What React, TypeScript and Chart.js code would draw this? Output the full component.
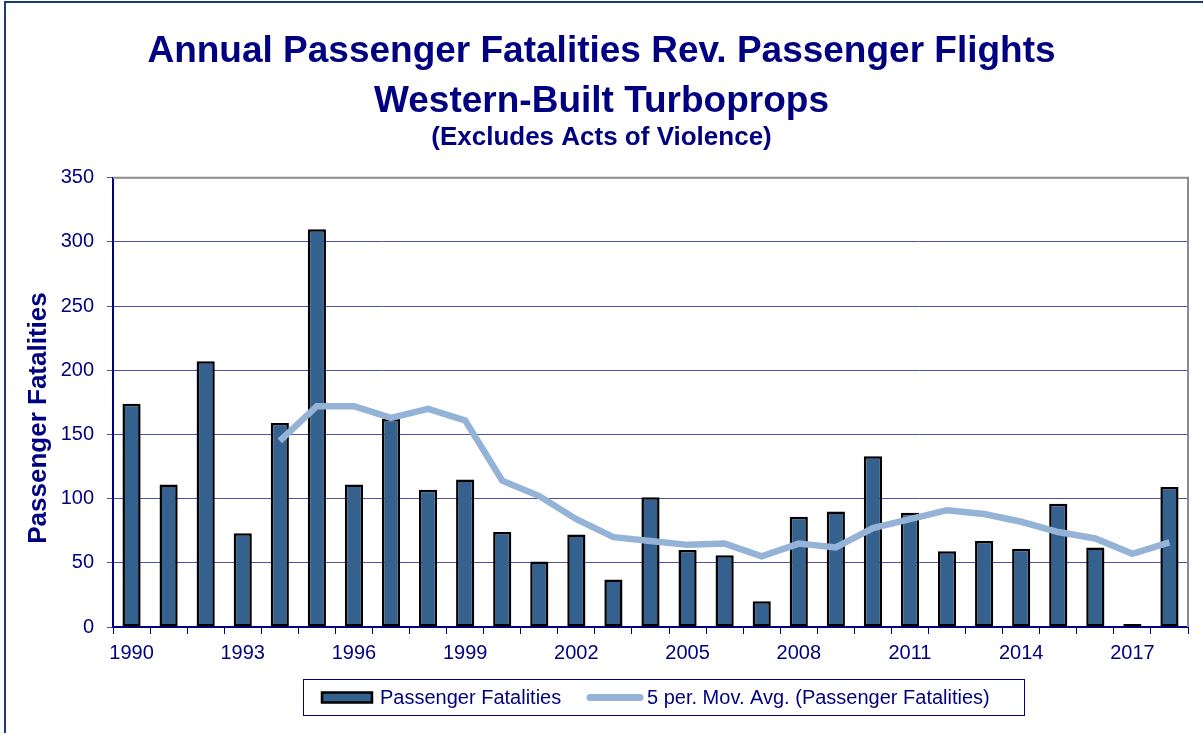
import React, { useEffect, useRef } from 'react';
import { Chart, registerables } from 'chart.js';

Chart.register(...registerables);

const years = ['1990','1991','1992','1993','1994','1995','1996','1997','1998','1999','2000','2001','2002','2003','2004','2005','2006','2007','2008','2009','2010','2011','2012','2013','2014','2015','2016','2017','2018'];
const fatalities = [174,111,207,73,159,310,111,162,107,115,74,51,72,37,101,60,56,20,86,90,133,89,59,67,61,96,62,1,109];
const movingAvg = [null,null,null,null,145,172,172,163,170,161,114,102,84,70,67,64,65,55,65,62,77,84,91,88,82,74,69,57,66];
const titleLines = ['Annual Passenger Fatalities Rev. Passenger Flights', 'Western-Built Turboprops'];
const subtitleText = '(Excludes Acts of Violence)';
const yAxisTitle = 'Passenger Fatalities';
const barLabel = 'Passenger Fatalities';
const lineLabel = '5 per. Mov. Avg. (Passenger Fatalities)';
const yMin = 0;
const yMax = 350;
const yStep = 50;
const labelEvery = 3;

const NAVY = '#000080';
const BAR_FILL = '#35618f';
const LINE_COLOR = '#95b3d7';
const FONT = '"Liberation Sans", Arial, sans-serif';

const decorations = {
  id: 'decorations',
  afterDraw(chart: any) {
    const ctx = chart.ctx;
    const area = chart.chartArea;
    ctx.save();
    // outer frame (left + top)
    ctx.strokeStyle = '#1a3a78';
    ctx.lineWidth = 2;
    ctx.beginPath();
    ctx.moveTo(5, 733);
    ctx.lineTo(5, 2);
    ctx.lineTo(1203, 2);
    ctx.stroke();

    // plot border top/right gray
    ctx.strokeStyle = '#8c8c8c';
    ctx.lineWidth = 2;
    ctx.beginPath();
    ctx.moveTo(area.left, area.top);
    ctx.lineTo(area.right, area.top);
    ctx.lineTo(area.right, area.bottom);
    ctx.stroke();

    // y axis title
    ctx.fillStyle = NAVY;
    ctx.font = 'bold 26px ' + FONT;
    ctx.textAlign = 'center';
    ctx.textBaseline = 'middle';
    ctx.translate(39, 418);
    ctx.rotate(-Math.PI / 2);
    ctx.fillText(yAxisTitle, 0, 0);
    ctx.setTransform(1, 0, 0, 1, 0, 0);

    // legend
    const bx = 303.5, by = 679.5, bw = 721, bh = 36;
    ctx.strokeStyle = NAVY;
    ctx.lineWidth = 1;
    ctx.strokeRect(bx, by, bw, bh);
    const cy = by + bh / 2;
    ctx.fillStyle = BAR_FILL;
    ctx.fillRect(322, cy - 5, 50, 10);
    ctx.strokeStyle = '#000000';
    ctx.lineWidth = 2.5;
    ctx.strokeRect(322, cy - 5, 50, 10);
    ctx.font = '20px ' + FONT;
    ctx.fillStyle = NAVY;
    ctx.textAlign = 'left';
    ctx.textBaseline = 'middle';
    ctx.fillText(barLabel, 380, cy + 1);
    ctx.strokeStyle = LINE_COLOR;
    ctx.lineWidth = 7;
    ctx.lineCap = 'round';
    ctx.beginPath();
    ctx.moveTo(590, cy);
    ctx.lineTo(640, cy);
    ctx.stroke();
    ctx.fillStyle = NAVY;
    ctx.fillText(lineLabel, 647, cy + 1);
    ctx.restore();
  },
};

export default function App() {
  const ref = useRef<HTMLCanvasElement>(null);
  useEffect(() => {
    document.body.style.margin = '0';
    const canvas = ref.current;
    if (!canvas) return;
    const chart = new Chart(canvas, {
      type: 'bar',
      data: {
        labels: years,
        datasets: [
          {
            type: 'line',
            label: lineLabel,
            data: movingAvg,
            borderColor: LINE_COLOR,
            backgroundColor: LINE_COLOR,
            borderWidth: 6.5,
            pointRadius: 0,
            tension: 0,
            spanGaps: false,
            order: 0,
          } as any,
          {
            type: 'bar',
            label: barLabel,
            data: fatalities,
            backgroundColor: BAR_FILL,
            borderColor: '#000000',
            borderWidth: 2.5,
            borderSkipped: false,
            barPercentage: 0.49,
            categoryPercentage: 1,
            minBarLength: 3,
            order: 1,
          } as any,
        ],
      },
      options: {
        responsive: false,
        animation: false,
        devicePixelRatio: 1,
        layout: { padding: { left: 15, right: 15, top: 0, bottom: 61 } },
        plugins: {
          legend: { display: false },
          tooltip: { enabled: false },
          title: {
            display: true,
            text: titleLines,
            color: NAVY,
            font: { family: FONT, size: 37, weight: 'bold', lineHeight: 50 / 37 },
            padding: { top: 27, bottom: 0 },
          },
          subtitle: {
            display: true,
            text: subtitleText,
            color: NAVY,
            font: { family: FONT, size: 26, weight: 'bold', lineHeight: 0.8 },
            padding: { top: 0, bottom: 30 },
          },
        },
        scales: {
          x: {
            offset: true,
            grid: {
              display: true,
              offset: true,
              drawOnChartArea: false,
              drawTicks: true,
              tickLength: 7,
              color: NAVY,
              lineWidth: 1,
            },
            border: { display: true, color: NAVY, width: 2 },
            ticks: {
              autoSkip: false,
              maxRotation: 0,
              minRotation: 0,
              padding: 7,
              color: NAVY,
              font: { family: FONT, size: 20 },
              callback: (_v: any, i: number) => (i % labelEvery === 0 ? years[i] : ''),
            },
          },
          y: {
            min: yMin,
            max: yMax,
            afterFit: (scale: any) => { scale.width = 98; },
            grid: {
              color: '#5050a8',
              lineWidth: 1,
              tickLength: 6,
              drawTicks: true,
            },
            border: { display: true, color: NAVY, width: 2 },
            ticks: {
              stepSize: yStep,
              padding: 13,
              color: NAVY,
              font: { family: FONT, size: 20 },
            },
          },
        },
      },
      plugins: [decorations],
    });
    return () => chart.destroy();
  }, []);
  return (
    <div style={{ width: 1203, height: 733, position: 'relative', background: '#ffffff' }}>
      <canvas ref={ref} width={1203} height={733} style={{ display: 'block' }} />
    </div>
  );
}
